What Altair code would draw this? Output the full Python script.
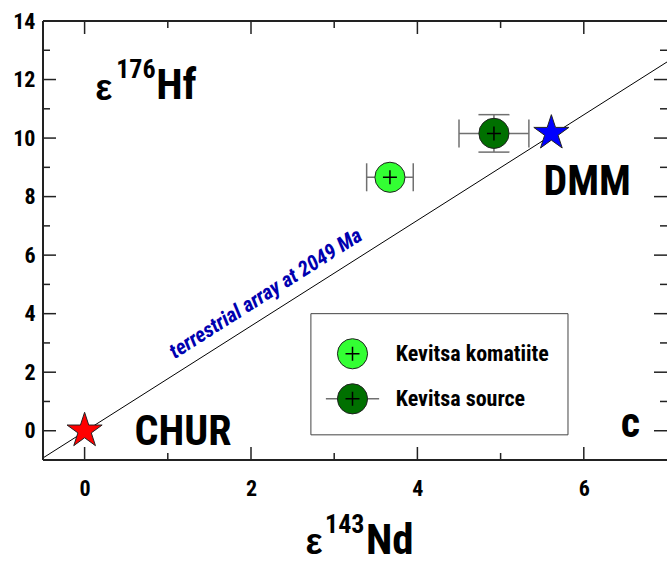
import altair as alt
import pandas as pd

# ---------------- data ----------------
sample_names = ["Kevitsa komatiite", "Kevitsa source"]
sample_end = [3.67, 4.92]
sample_ehf = [8.66, 10.16]
sample_end_err = [0.28, 0.42]
sample_ehf_err = [0.0, 0.64]
sample_colors = ["#33ff33", "#007000"]

reservoir_names = ["CHUR", "DMM"]
reservoir_end = [0.0, 5.61]
reservoir_ehf = [0.0, 10.17]
reservoir_colors = ["#ff0000", "#0000ff"]

array_end = [-0.5, 7.0]
array_ehf = [-0.93, 12.6]

x_major = [0, 2, 4, 6]
x_minor = [1, 3, 5]
y_major = [0, 2, 4, 6, 8, 10, 12, 14]
y_minor = [1, 3, 5, 7, 9, 11, 13]

# ---------------- layout / style ----------------
W, H = 624, 439
FONT = "Roboto Condensed, Liberation Sans, sans-serif"
FONT_REG = "Liberation Sans, Arial, sans-serif"
XD = [-0.5, 7.0]
YD = [-1.0, 14.0]
MAJ, MIN = 13, 7
FRAME = "#222222"
STAR = ("M0,-1L0.225,-0.309L0.951,-0.309L0.363,0.118L0.588,0.809L0,0.382"
        "L-0.588,0.809L-0.363,0.118L-0.951,-0.309L-0.225,-0.309Z")

xs = alt.Scale(domain=XD, nice=False, zero=False)
ys = alt.Scale(domain=YD, nice=False, zero=False)

x_axis = alt.Axis(values=x_major, ticks=False, tickSize=0, domain=False, grid=False,
                  labelFont=FONT, labelFontSize=22, labelFontWeight="bold",
                  labelColor="black", labelPadding=18, title=None, format="d")
y_axis = alt.Axis(values=y_major, ticks=False, tickSize=0, domain=False, grid=False,
                  labelFont=FONT, labelFontSize=22, labelFontWeight="bold",
                  labelColor="black", labelPadding=8, title=None, format="d")


def X(f):
    return alt.X(f, type="quantitative", scale=xs, axis=x_axis)


def Y(f):
    return alt.Y(f, type="quantitative", scale=ys, axis=y_axis)


# ---------------- tables ----------------
samples = pd.DataFrame({
    "name": sample_names, "x": sample_end, "y": sample_ehf,
    "xerr": sample_end_err, "yerr": sample_ehf_err, "color": sample_colors,
})
samples["xlo"] = samples["x"] - samples["xerr"]
samples["xhi"] = samples["x"] + samples["xerr"]
samples["ylo"] = samples["y"] - samples["yerr"]
samples["yhi"] = samples["y"] + samples["yerr"]

reservoirs = pd.DataFrame({"name": reservoir_names, "x": reservoir_end,
                           "y": reservoir_ehf, "color": reservoir_colors})
array_df = pd.DataFrame({"x": array_end, "y": array_ehf})

xt = pd.DataFrame({"v": x_major + x_minor, "len": [MAJ] * len(x_major) + [MIN] * len(x_minor)})
yt = pd.DataFrame({"v": y_major + y_minor, "len": [MAJ] * len(y_major) + [MIN] * len(y_minor)})

# ---------------- frame & ticks ----------------
one = array_df.head(1)
frame_left = alt.Chart(one).mark_rule(color=FRAME, strokeWidth=2).encode(
    x=alt.value(0), y=alt.value(0), y2=alt.value(H))
frame_bottom = alt.Chart(one).mark_rule(color=FRAME, strokeWidth=2).encode(
    x=alt.value(0), x2=alt.value(W + 2), y=alt.value(H))
frame_top = alt.Chart(one).mark_rule(color=FRAME, strokeWidth=2).encode(
    x=alt.value(0), x2=alt.value(W + 2), y=alt.value(0))

tick_layers = []
for sub in (xt[xt.len == MAJ], xt[xt.len == MIN]):
    ln = int(sub["len"].iloc[0])
    tick_layers.append(alt.Chart(sub).mark_rule(color=FRAME, strokeWidth=1.5).encode(
        x=X("v"), y=alt.value(H), y2=alt.value(H - ln)))
    tick_layers.append(alt.Chart(sub).mark_rule(color=FRAME, strokeWidth=1.5).encode(
        x=X("v"), y=alt.value(0), y2=alt.value(ln)))
for sub in (yt[yt.len == MAJ], yt[yt.len == MIN]):
    ln = int(sub["len"].iloc[0])
    tick_layers.append(alt.Chart(sub).mark_rule(color=FRAME, strokeWidth=1.5).encode(
        y=Y("v"), x=alt.value(0), x2=alt.value(ln)))
    tick_layers.append(alt.Chart(sub).mark_rule(color=FRAME, strokeWidth=1.5).encode(
        y=Y("v"), x=alt.value(W), x2=alt.value(W - ln)))

# ---------------- terrestrial array ----------------
array_line = alt.Chart(array_df).mark_line(color="black", strokeWidth=1, clip=True).encode(
    x=X("x"), y=Y("y"))

# ---------------- samples ----------------
ERR = "#707070"
plus_shape = "M-1,0L1,0M0,-1L0,1"
hbar = alt.Chart(samples).mark_rule(color=ERR, strokeWidth=1.5).encode(
    x=X("xlo"), x2="xhi", y=Y("y"))
vbar = alt.Chart(samples[samples.yerr > 0]).mark_rule(color=ERR, strokeWidth=1.5).encode(
    x=X("x"), y=Y("ylo"), y2="yhi")
xcap_lo = alt.Chart(samples).mark_point(shape="M0,-1L0,1", size=784, filled=False,
                                        color=ERR, strokeWidth=1.5, opacity=1).encode(
    x=X("xlo"), y=Y("y"))
xcap_hi = alt.Chart(samples).mark_point(shape="M0,-1L0,1", size=784, filled=False,
                                        color=ERR, strokeWidth=1.5, opacity=1).encode(
    x=X("xhi"), y=Y("y"))
ycap_lo = alt.Chart(samples[samples.yerr > 0]).mark_point(
    shape="M-1,0L1,0", size=961, filled=False, color=ERR, strokeWidth=1.5, opacity=1).encode(
    x=X("x"), y=Y("ylo"))
ycap_hi = alt.Chart(samples[samples.yerr > 0]).mark_point(
    shape="M-1,0L1,0", size=961, filled=False, color=ERR, strokeWidth=1.5, opacity=1).encode(
    x=X("x"), y=Y("yhi"))
dots = alt.Chart(samples).mark_circle(size=908, stroke="#222222", strokeWidth=1, opacity=1).encode(
    x=X("x"), y=Y("y"), color=alt.Color("color:N", scale=None))
plus = alt.Chart(samples).mark_point(shape=plus_shape, size=196, filled=False,
                                     color="black", strokeWidth=1.5, opacity=1).encode(
    x=X("x"), y=Y("y"))

# ---------------- reservoirs ----------------
stars = alt.Chart(reservoirs).mark_point(shape=STAR, size=1360, filled=True,
                                         stroke="#222222", strokeWidth=1, opacity=1).encode(
    x=X("x"), y=Y("y"), fill=alt.Fill("color:N", scale=None))

# ---------------- annotations (positions in data units) ----------------
big_text_layers = []
for t, x, y, al in [("DMM", 6.04, 8.06, "center"), ("CHUR", 0.60, -0.48, "left"),
                    ("c", 6.56, -0.2, "center")]:
    big_text_layers.append(
        alt.Chart(pd.DataFrame({"t": [t], "x": [x], "y": [y]})).mark_text(
            font=FONT, fontSize=42, fontWeight="bold", color="black",
            align=al, baseline="alphabetic").encode(
            x=X("x"), y=Y("y"), text="t:N"))

hf_eps = alt.Chart(pd.DataFrame({"x": [0.23], "y": [11.30], "t": ["ε"]})).mark_text(
    font=FONT_REG, fontSize=36, fontWeight="bold", color="black", align="center",
    baseline="alphabetic").encode(x=X("x"), y=Y("y"), text="t:N")
hf_sup = alt.Chart(pd.DataFrame({"x": [0.38], "y": [12.05], "t": ["176"]})).mark_text(
    font=FONT, fontSize=26, fontWeight="bold", color="black", align="left",
    baseline="alphabetic").encode(x=X("x"), y=Y("y"), text="t:N")
hf_el = alt.Chart(pd.DataFrame({"x": [0.86], "y": [11.33], "t": ["Hf"]})).mark_text(
    font=FONT, fontSize=43, fontWeight="bold", color="black", align="left",
    baseline="alphabetic").encode(x=X("x"), y=Y("y"), text="t:N")

array_label = alt.Chart(pd.DataFrame({"x": [2.18], "y": [4.67],
                                      "t": ["terrestrial array at 2049 Ma"]})).mark_text(
    font=FONT, fontSize=21, fontWeight="bold", fontStyle="italic", color="#0000b0",
    angle=327.5, align="center", baseline="middle").encode(x=X("x"), y=Y("y"), text="t:N")

# x-axis title (below the plot, pixel offsets from the plot origin)
nd_title = [
    alt.Chart(pd.DataFrame({"t": ["ε"]})).mark_text(
        font=FONT_REG, fontSize=36, fontWeight="bold", color="black", align="center",
        baseline="alphabetic").encode(x=alt.value(271), y=alt.value(533), text="t:N"),
    alt.Chart(pd.DataFrame({"t": ["143"]})).mark_text(
        font=FONT, fontSize=26, fontWeight="bold", color="black", align="left",
        baseline="alphabetic").encode(x=alt.value(282), y=alt.value(512), text="t:N"),
    alt.Chart(pd.DataFrame({"t": ["Nd"]})).mark_text(
        font=FONT, fontSize=43, fontWeight="bold", color="black", align="left",
        baseline="alphabetic").encode(x=alt.value(323), y=alt.value(533), text="t:N"),
]

# ---------------- legend ----------------
legend_box = alt.Chart(pd.DataFrame({"x": [2.72], "x2": [5.81], "y": [4.0], "y2": [-0.14]})).mark_rect(
    fill="white", stroke="#444444", strokeWidth=1).encode(
    x=X("x"), x2="x2", y=Y("y"), y2="y2")
leg = pd.DataFrame({"name": sample_names, "color": sample_colors,
                    "x": [3.22, 3.22], "y": [2.63, 1.09], "tx": [3.74, 3.74]})
leg["xlo"] = leg["x"] - 0.32
leg["xhi"] = leg["x"] + 0.32
leg_line = alt.Chart(leg.iloc[[1]]).mark_rule(color=ERR, strokeWidth=1.5).encode(
    x=X("xlo"), x2="xhi", y=Y("y"))
leg_dots = alt.Chart(leg).mark_circle(size=908, stroke="#222222", strokeWidth=1, opacity=1).encode(
    x=X("x"), y=Y("y"), color=alt.Color("color:N", scale=None))
leg_plus = alt.Chart(leg).mark_point(shape=plus_shape, size=196, filled=False,
                                     color="black", strokeWidth=1.5, opacity=1).encode(
    x=X("x"), y=Y("y"))
leg_text = alt.Chart(leg).mark_text(font=FONT, fontSize=22, fontWeight="bold", color="black",
                                    align="left", baseline="middle").encode(
    x=X("tx"), y=Y("y"), text="name:N")

chart = alt.layer(
    array_line, array_label,
    hbar, vbar, xcap_lo, xcap_hi, ycap_lo, ycap_hi, dots, plus,
    stars,
    *big_text_layers, hf_eps, hf_sup, hf_el,
    legend_box, leg_line, leg_dots, leg_plus, leg_text,
    *tick_layers, frame_left, frame_bottom, frame_top,
    *nd_title,
).properties(
    width=W, height=H, autosize="none",
    padding={"left": 43, "top": 21, "right": 0, "bottom": 103},
    background="white",
).configure_view(stroke=None)

chart.save("out.html", embed_options={"renderer": "svg", "actions": False})
